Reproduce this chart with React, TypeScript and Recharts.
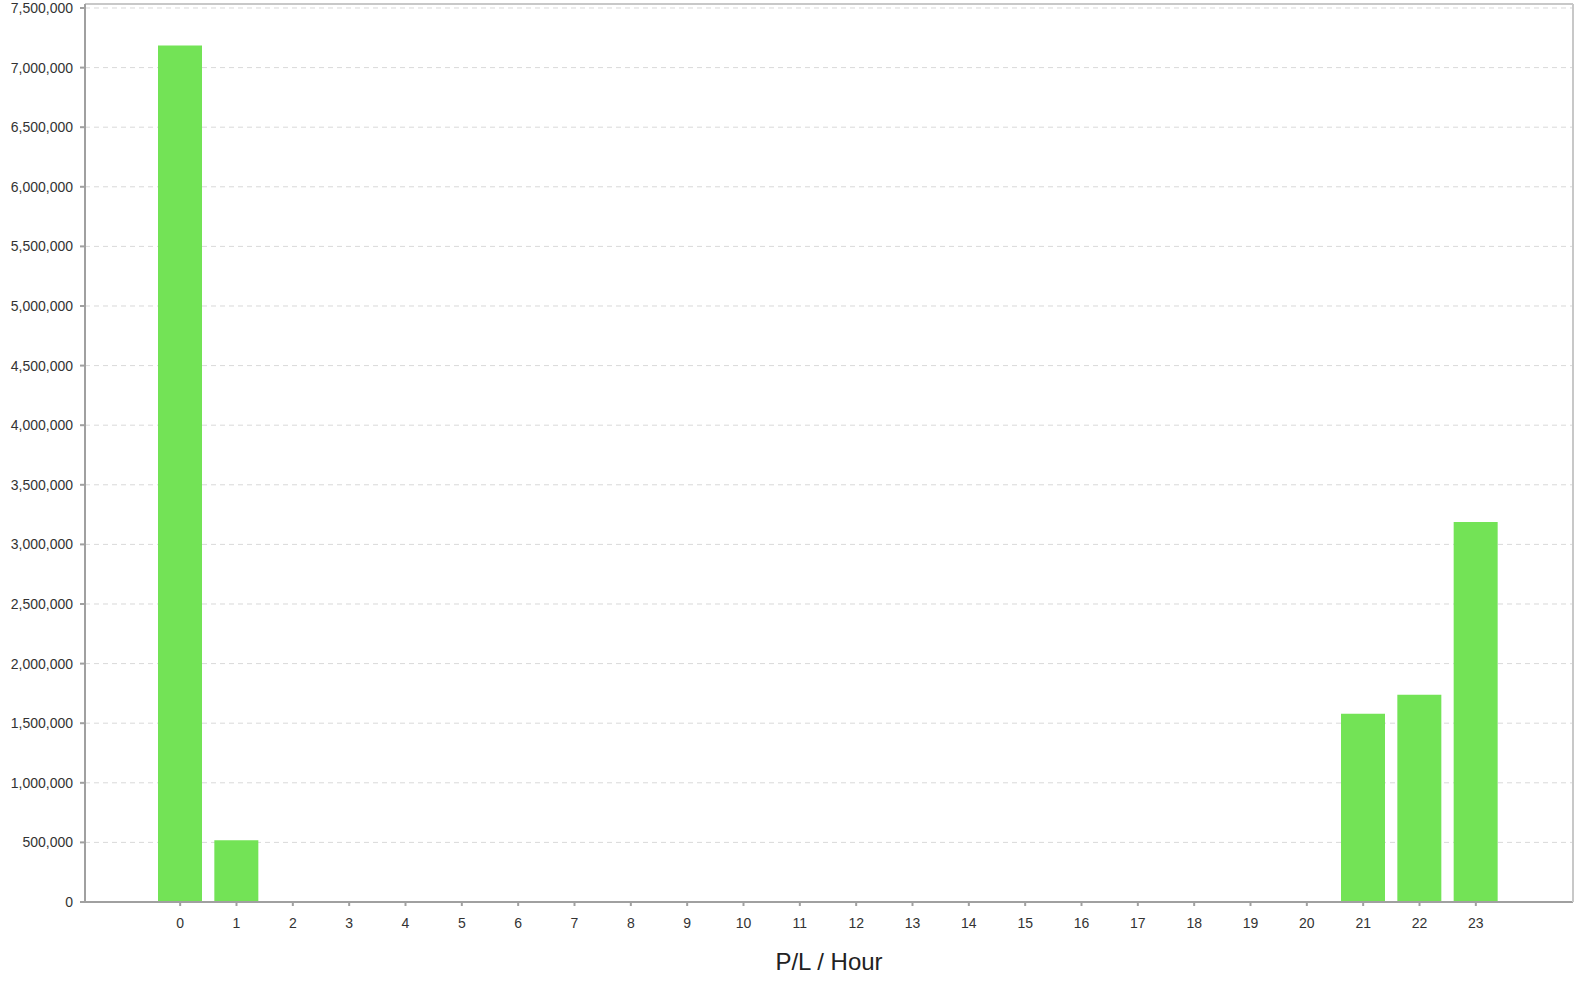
import React from 'react';
import { BarChart, Bar, XAxis, YAxis, CartesianGrid } from 'recharts';

const hours = [
    '0', '1', '2', '3', '4', '5', '6', '7', '8', '9', '10', '11',
    '12', '13', '14', '15', '16', '17', '18', '19', '20', '21', '22', '23',
];
const profit = [
    7186000, 519000, 0, 0, 0, 0, 0, 0, 0, 0, 0, 0,
    0, 0, 0, 0, 0, 0, 0, 0, 0, 1579000, 1738000, 3187000,
];
const yTicks = [
    0, 500000, 1000000, 1500000, 2000000, 2500000, 3000000, 3500000,
    4000000, 4500000, 5000000, 5500000, 6000000, 6500000, 7000000, 7500000,
];

const data = hours.map((hour, i) => ({ hour, pl: profit[i] }));

const tickStyle = { fill: '#333', fontSize: 14, fontFamily: 'Liberation Sans, Arial, sans-serif' };
const axisColor = '#a0a0a0';

export default function App() {
    return (
        <div style={{ position: 'absolute', left: 0, top: 0, width: 1586, height: 984, overflow: 'hidden', background: '#fff' }}>
            <BarChart
                width={1586}
                height={984}
                data={data}
                margin={{ top: 3, right: 12, bottom: 0, left: 0 }}
            >
                <CartesianGrid vertical={false} stroke="#d9d9d9" strokeDasharray="5 4" />
                <XAxis
                    dataKey="hour"
                    height={82}
                    padding={{ left: 67, right: 69 }}
                    interval={0}
                    tickSize={4}
                    tickMargin={12}
                    tick={tickStyle}
                    stroke={axisColor}
                    strokeWidth={2}
                    label={{
                        value: 'P/L / Hour',
                        position: 'insideBottom',
                        offset: 14,
                        fill: '#222',
                        fontSize: 24,
                        fontFamily: 'Liberation Sans, Arial, sans-serif',
                    }}
                />
                <XAxis xAxisId="top" orientation="top" dataKey="hour" height={1} tick={false} tickLine={false} stroke="#c8c8c8" strokeWidth={2} />
                <YAxis
                    width={85}
                    domain={[0, 7533500]}
                    ticks={yTicks}
                    interval={0}
                    tickSize={5}
                    tickMargin={7}
                    tick={tickStyle}
                    stroke={axisColor}
                    strokeWidth={2}
                    tickFormatter={(v: number) => v.toLocaleString('en-US')}
                />
                <YAxis yAxisId="right" orientation="right" width={1} tick={false} tickLine={false} stroke="#c8c8c8" strokeWidth={2} />
                <Bar dataKey="pl" fill="#73e356" barSize={44} isAnimationActive={false} />
            </BarChart>
        </div>
    );
}
